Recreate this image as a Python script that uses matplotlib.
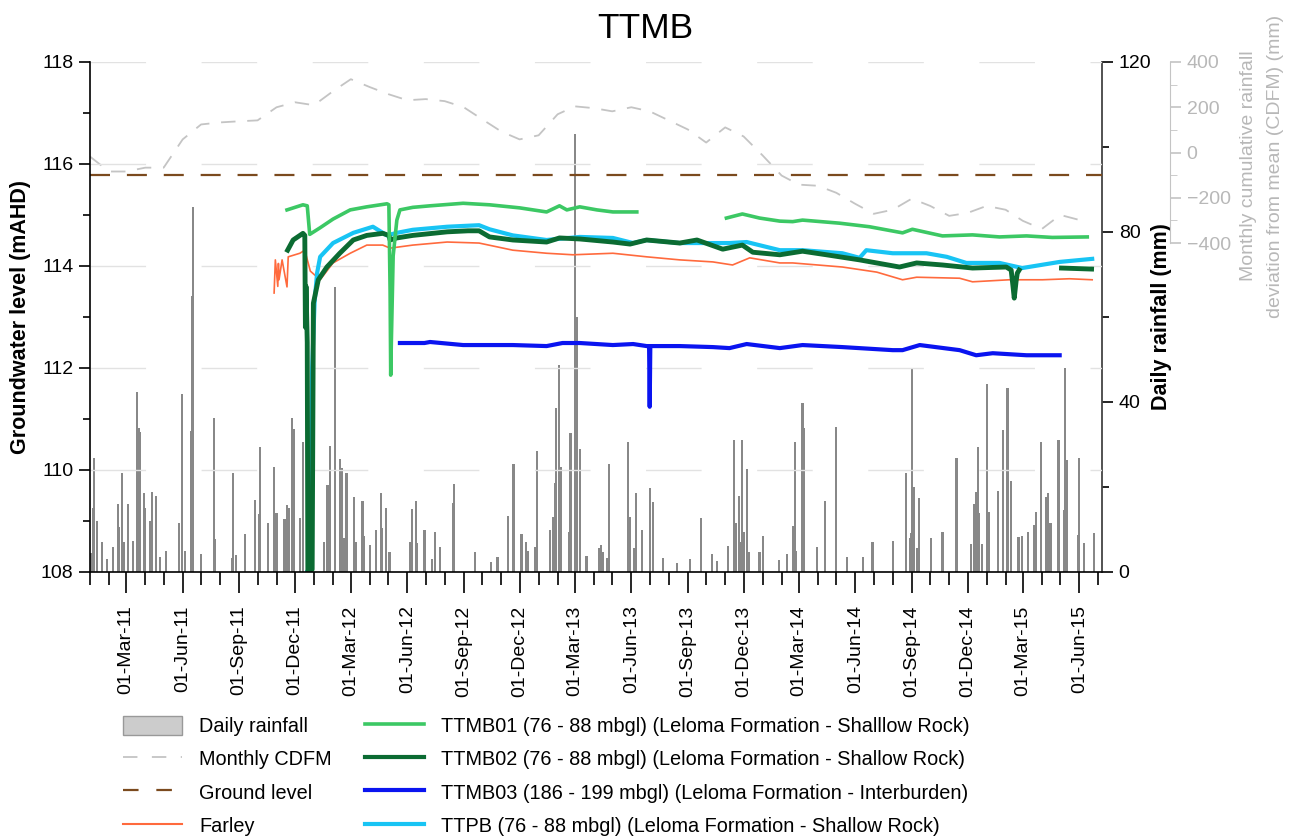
import numpy as np
import pandas as pd
import matplotlib
matplotlib.use('Agg')
import matplotlib.pyplot as plt
import matplotlib.dates as mdates
from matplotlib.patches import Patch
from matplotlib.lines import Line2D

plt.rcParams['font.family'] = ['Liberation Sans', 'DejaVu Sans']

#------------------------------------DATA----------------------------------------#
# all dates are given as days after 01-Jan-2011
start = pd.Timestamp('2011-01-01')

# daily rainfall (mm) - main events
rain_day = [2, 5, 7, 11, 20, 28, 37, 46, 47, 52, 55, 62, 70, 77, 80, 81, 88, 90, 98, 101,
            107, 114, 124, 145, 150, 155, 164, 166, 168, 181, 202, 204, 231, 233, 238, 252, 269, 275, 277, 290,
            300, 304, 317, 321, 324, 329, 332, 342, 347, 361, 381, 387, 391, 399, 407, 410, 414, 418, 430, 433,
            444, 446, 456, 466, 474, 475, 482, 488, 521, 524, 531, 532, 545, 557, 562, 571, 591, 593, 628, 653,
            664, 681, 690, 703, 710, 713, 726, 729, 749, 754, 757, 760, 764, 767, 780, 783, 790, 794, 798, 809,
            829, 832, 835, 842, 845, 877, 879, 887, 889, 899, 913, 917, 934, 956, 977, 996, 1013, 1022, 1039, 1050,
            1053, 1057, 1060, 1063, 1065, 1070, 1073, 1091, 1096, 1123, 1136, 1146, 1149, 1151, 1161, 1164, 1185, 1197, 1198, 1216,
            1234, 1260, 1275, 1309, 1330, 1337, 1338, 1340, 1342, 1348, 1351, 1371, 1389, 1412, 1436, 1441, 1444, 1447, 1449, 1454,
            1462, 1465, 1480, 1487, 1495, 1501, 1513, 1519, 1529, 1539, 1542, 1549, 1558, 1561, 1565, 1578, 1587, 1589, 1592, 1610,
            1612, 1620, 1636]
rain_mm = [4.4, 15, 26.9, 12, 7, 3, 6, 16, 10.6, 23.2, 7, 16, 7.3, 42.3, 33.9, 33, 18.6, 15, 12, 18.9,
           17.9, 3.5, 5, 11.5, 41.9, 5, 33.2, 65, 86, 4.2, 36.2, 7.8, 3.3, 23.2, 4, 9, 17, 13.6, 29.4, 11.5,
           24.7, 14, 12.5, 15.8, 15, 36.2, 33.6, 12.7, 30.6, 3.5, 7, 20.5, 29.6, 67, 26.6, 24.5, 8, 23.2, 17.6, 7,
           16.7, 8.5, 6.3, 9.9, 18.6, 10.4, 15, 4.7, 7, 14.8, 16.7, 6.8, 10, 3, 9.4, 6, 16.3, 20.7, 4.7, 2.4,
           3.5, 13.2, 25.4, 9, 7, 5, 6, 28.5, 9.9, 13, 21, 38.6, 48.7, 24.7, 9.4, 32.7, 103, 60, 29, 3.8,
           5.6, 6.3, 4.7, 3.3, 25.4, 30.6, 13, 5.6, 18.6, 10, 19.8, 16.5, 3.3, 2.2, 3, 12.7, 4.2, 2.6, 6.1, 31,
           11.5, 17.9, 7, 31, 9.4, 24.2, 4.7, 4.7, 8.5, 2.8, 4.2, 10.8, 30.6, 5, 39.7, 33.9, 5.9, 16.7, 8, 34.1,
           3.5, 3.5, 7, 7.3, 23.2, 8, 9.2, 48, 20, 5.6, 17.4, 8, 9.4, 26.8, 6.6, 16, 18.8, 29.4, 13.9, 6.6,
           44.2, 14.1, 19.1, 33.4, 43.3, 21.4, 8.2, 8.5, 9.4, 11, 14.1, 30.6, 17.6, 18.6, 11.5, 31, 14.6, 48, 26.3, 8.7,
           26.8, 6.8, 9.2]

# monthly CDFM (mm), first of each month from Jan-2011
cdfm_mm = [-18, -84, -84, -67, -67, 58, 124, 133, 138, 142, 200, 222,
           209, 271, 324, 289, 258, 231, 236, 227, 200, 147, 93, 58,
           76, 169, 204, 196, 182, 200, 182, 142, 102, 44, 111, 71,
           -13, -102, -142, -147, -178, -227, -271, -253, -204, -236, -280, -267,
           -236, -253, -302, -338, -276, -298]

ground_level = 115.78

farley_day = [300, 302, 306, 307, 308, 313, 321, 323, 342, 350, 359, 375, 396, 424, 451, 477, 489, 526, 582, 634,
              689, 744, 787, 852, 907, 961, 1015, 1047, 1075, 1124, 1145, 1226, 1282, 1324, 1347, 1417, 1438, 1498, 1552, 1596, 1633]
farley_lvl = [113.47, 114.12, 113.6, 114.05, 113.73, 114.12, 113.59, 114.18, 114.25, 114.31, 113.9, 113.73, 114.06, 114.25, 114.41, 114.41, 114.35, 114.41, 114.47, 114.45,
              114.31, 114.25, 114.22, 114.25, 114.18, 114.12, 114.08, 114.02, 114.16, 114.06, 114.06, 113.98, 113.88, 113.73, 113.78, 113.76, 113.69, 113.73, 113.73, 113.75, 113.73]

ttmb01_day = [321, 347, 354, 358, 375, 396, 424, 451, 484, 487, 489, 490, 491, 494, 500, 505, 526, 554, 608, 651,
              700, 744, 765, 777, 798, 826, 852, 891, 950, 1037, 1063, 1091, 1124, 1145, 1161, 1221, 1270, 1324, 1340, 1389,
              1438, 1482, 1526, 1568, 1625]
ttmb01_lvl = [115.10, 115.20, 115.18, 114.62, 114.75, 114.92, 115.10, 115.16, 115.22, 115.2, 113.5, 111.86, 112.5, 114.2, 114.9, 115.10, 115.15, 115.18, 115.23, 115.20,
              115.14, 115.06, 115.18, 115.10, 115.16, 115.10, 115.06, 115.06, np.nan, 114.94, 115.02, 114.94, 114.88, 114.87, 114.9, 114.84, 114.77, 114.65, 114.72, 114.59,
              114.61, 114.57, 114.59, 114.56, 114.57]

ttmb02_day = [322, 331, 347, 350, 351, 352, 354, 355, 362, 364, 372, 386, 407, 429, 451, 477, 487, 489, 500, 526,
              582, 616, 634, 651, 689, 744, 765, 798, 852, 880, 907, 961, 989, 1031, 1063, 1080, 1124, 1161, 1200, 1254,
              1319, 1347, 1389, 1438, 1493, 1501, 1504, 1506, 1509, 1511, 1514, 1550, 1583, 1632]
ttmb02_lvl = [114.31, 114.51, 114.64, 114.6, 112.8, 113.6, 112.5, 108.0, 108.05, 113.27, 113.73, 113.98, 114.25, 114.51, 114.60, 114.64, 114.6, 114.51, 114.55, 114.6,
              114.67, 114.69, 114.69, 114.57, 114.51, 114.47, 114.55, 114.53, 114.47, 114.43, 114.51, 114.45, 114.51, 114.33, 114.41, 114.27, 114.22, 114.29, 114.22, 114.12,
              113.98, 114.06, 114.02, 113.96, 113.98, 113.92, 113.6, 113.37, 113.7, 113.86, 113.92, np.nan, 113.96, 113.94]

ttmb03_day = [505, 545, 554, 608, 689, 744, 770, 798, 852, 885, 907, 911, 912, 913, 961, 1015, 1042, 1070, 1124, 1161,
              1226, 1308, 1324, 1352, 1417, 1444, 1471, 1526, 1580]
ttmb03_lvl = [112.49, 112.49, 112.51, 112.45, 112.45, 112.43, 112.49, 112.49, 112.45, 112.47, 112.43, 112.43, 111.24, 112.43, 112.43, 112.41, 112.39, 112.47, 112.39, 112.45,
              112.41, 112.35, 112.35, 112.45, 112.35, 112.25, 112.29, 112.25, 112.25]

ttpb_day = [354, 358, 362, 366, 370, 375, 396, 429, 461, 484, 500, 526, 582, 634, 651, 689, 744, 798, 852, 885,
            907, 961, 994, 1042, 1070, 1124, 1161, 1226, 1254, 1265, 1308, 1363, 1396, 1428, 1482, 1519, 1580, 1633]
ttpb_lvl = [108.0, 108.0, 112.0, 113.3, 113.86, 114.18, 114.45, 114.65, 114.77, 114.6, 114.65, 114.71, 114.77, 114.8, 114.72, 114.6, 114.51, 114.57, 114.55, 114.45,
            114.51, 114.45, 114.45, 114.45, 114.47, 114.31, 114.31, 114.25, 114.16, 114.31, 114.25, 114.25, 114.18, 114.06, 114.06, 113.96, 114.08, 114.14]


def to_dates(days):
	return start + pd.to_timedelta(days, unit='D')


#------------------------------------PLOTTING----------------------------------------#
W, H = 1294, 836
fig = plt.figure(figsize=(W / 100, H / 100), dpi=100)
L, R, T, B = 90, 1102, 62, 572
ax = fig.add_axes([L / W, 1 - B / H, (R - L) / W, (B - T) / H])
ax2 = ax.twinx()
ax3 = ax.twinx()

# draw groundwater axes on top of rainfall / CDFM
ax2.set_zorder(1)
ax3.set_zorder(2)
ax.set_zorder(3)
ax.patch.set_visible(False)

# rainfall bars
ax2.bar(to_dates(rain_day), rain_mm, width=3.5, color='#888888', linewidth=0)
ax2.set_ylim(0, 120)
ax2.set_yticks([0, 40, 80, 120])
ax2.set_yticks([20, 60, 100], minor=True)
ax2.tick_params(axis='y', labelsize=14, length=8, width=1.2, pad=4, colors='black')
ax2.tick_params(axis='y', which='minor', length=5, width=1.2)
ax2.spines['right'].set_color('#444444')
ax2.spines['right'].set_linewidth(1.3)
ax2.set_ylabel('Daily rainfall (mm)', fontsize=15.5, fontweight='bold')
ax2.yaxis.set_label_coords((1151 - L) / (R - L), 0.5)

# CDFM
cdfm_dates = pd.date_range('2011-01-01', periods=len(cdfm_mm), freq='MS')
ax3.plot(cdfm_dates, cdfm_mm, color='#c4c4c4', lw=1.3, dashes=(8, 6.5))
ax3.set_ylim(-1854, 400)
ax3.spines['right'].set_position(('axes', (1170 - L) / (R - L)))
ax3.spines['right'].set_bounds(-400, 400)
ax3.spines['right'].set_color('#c4c4c4')
ax3.set_yticks([-400, -200, 0, 200, 400])
ax3.set_yticks([-300, -100, 100, 300], minor=True)
ax3.tick_params(axis='y', labelsize=14, length=8, width=1.2, pad=4, colors='#c4c4c4', labelcolor='#b8b8b8')
ax3.tick_params(axis='y', which='minor', length=5, colors='#c4c4c4')
ax3.set_ylabel('Monthly cumulative rainfall\ndeviation from mean (CDFM) (mm)', fontsize=14,
               color='#b8b8b8', linespacing=1.8)
ax3.yaxis.set_label_coords((1240 - L) / (R - L), (B - 166) / (B - T))

for a in (ax2, ax3):
	a.spines['top'].set_visible(False)
	a.spines['left'].set_visible(False)
	a.spines['bottom'].set_visible(False)

# groundwater
ax.axhline(ground_level, color='#7b4a1e', lw=1.6, dashes=(9, 7.6))
ax.plot(to_dates(farley_day), farley_lvl, color='#ff6a3d', lw=1.2)
ax.plot(to_dates(ttpb_day), ttpb_lvl, color='#18c4f4', lw=3)
ax.plot(to_dates(ttmb02_day), ttmb02_lvl, color='#0b6b32', lw=3.5)
ax.plot(to_dates(ttmb03_day), ttmb03_lvl, color='#0a14f0', lw=3)
ax.plot(to_dates(ttmb01_day), ttmb01_lvl, color='#3cc864', lw=2.6)

ax.set_ylim(108, 118)
ax.set_yticks(np.arange(108, 119, 2))
ax.set_yticks(np.arange(109, 118, 2), minor=True)
ax.yaxis.grid(True, color='#e2e2e2', lw=1, dashes=(40, 40))
ax.set_axisbelow(True)
ax.set_xlim(start, start + pd.Timedelta(days=1649))
ax.xaxis.set_major_locator(mdates.MonthLocator(bymonth=[3, 6, 9, 12], bymonthday=1))
ax.xaxis.set_minor_locator(mdates.MonthLocator())
ax.xaxis.set_major_formatter(mdates.DateFormatter('%d-%b-%y'))
ax.tick_params(axis='x', which='major', length=15, width=1.2, labelsize=14, labelrotation=90, pad=9)
ax.tick_params(axis='x', which='minor', length=9, width=1.2)
ax.tick_params(axis='y', which='major', length=8, width=1.2, labelsize=14, pad=4)
ax.tick_params(axis='y', which='minor', length=5, width=1.2)
ax.spines['top'].set_visible(False)
ax.spines['right'].set_visible(False)
for s in ('left', 'bottom'):
	ax.spines[s].set_linewidth(1.2)
ax.set_ylabel('Groundwater level (mAHD)', fontsize=15.5, fontweight='bold', labelpad=7)

fig.text(645 / W, 1 - 28 / H, 'TTMB', ha='center', va='center', fontsize=25.5)

# legend
handles = [Patch(facecolor='#cccccc', edgecolor='#999999'),
           Line2D([], [], color='#c4c4c4', lw=1.3, dashes=(8, 8)),
           Line2D([], [], color='#7b4a1e', lw=1.6, dashes=(7, 8)),
           Line2D([], [], color='#ff6a3d', lw=1.5),
           Line2D([], [], color='#3cc864', lw=2.6),
           Line2D([], [], color='#0b6b32', lw=3),
           Line2D([], [], color='#0a14f0', lw=3),
           Line2D([], [], color='#18c4f4', lw=3)]
labels = ['Daily rainfall', 'Monthly CDFM', 'Ground level', 'Farley',
          'TTMB01 (76 - 88 mbgl) (Leloma Formation - Shalllow Rock)',
          'TTMB02 (76 - 88 mbgl) (Leloma Formation - Shallow Rock)',
          'TTMB03 (186 - 199 mbgl) (Leloma Formation - Interburden)',
          'TTPB (76 - 88 mbgl) (Leloma Formation - Shallow Rock)']
fig.legend(handles, labels, ncol=2, loc='upper left', bbox_to_anchor=(105 / W, 1 - 698 / H),
           frameon=False, fontsize=14.3, handlelength=3.0, handleheight=1.1,
           labelspacing=0.65, columnspacing=1.65, handletextpad=0.85)

fig.savefig('out.png', dpi=100)
